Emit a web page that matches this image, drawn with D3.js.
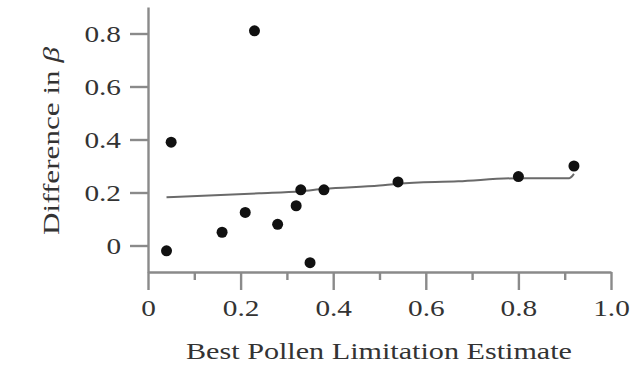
<!DOCTYPE html>
<html>
<head>
<meta charset="utf-8">
<script src="https://cdn.jsdelivr.net/npm/d3@7"></script>
<style>
  html, body { margin: 0; padding: 0; background: #fff; }
  svg text { font-family: "Liberation Serif", "Times New Roman", serif; fill: #333; }
</style>
</head>
<body>
<svg id="chart" width="635" height="374"></svg>
<script>
// Pollen limitation estimate vs. difference in beta
const pollenLimitation = [0.04, 0.05, 0.16, 0.21, 0.23, 0.28, 0.32, 0.33, 0.35, 0.38, 0.54, 0.80, 0.92];
const betaDifference   = [-0.02, 0.39, 0.05, 0.125, 0.81, 0.08, 0.15, 0.21, -0.065, 0.21, 0.24, 0.26, 0.30];

// Smoothed trend through the points
const trendX = [0.04, 0.24, 0.33, 0.38, 0.50, 0.54, 0.67, 0.80, 0.91, 0.92];
const trendY = [0.182, 0.197, 0.205, 0.214, 0.226, 0.233, 0.242, 0.254, 0.254, 0.27];

const xMajorTicks = [0, 0.2, 0.4, 0.6, 0.8, 1.0];
const xMinorTicks = [0.1, 0.3, 0.5, 0.7, 0.9];
const yTicks = [0, 0.2, 0.4, 0.6, 0.8];

const xTitle = "Best Pollen Limitation Estimate";
const yTitle = "Difference in ";
const yTitleSymbol = "β";

const svg = d3.select("#chart");
const axisColor = "#8a8a8a";
const wide = 1.22; // horizontal widening of the serif glyphs

const x = d3.scaleLinear().domain([0, 1]).range([148, 611]);
const y = d3.scaleLinear().domain([-0.1, 0.9]).range([272, 7]);

const fmt = d => d === 0 ? "0" : d3.format(".1f")(d);

function widen(sel) {
  sel.each(function () {
    const w = this.getComputedTextLength();
    d3.select(this).attr("textLength", w * wide).attr("lengthAdjust", "spacingAndGlyphs");
  });
}

// minor x ticks
svg.append("g")
  .attr("transform", `translate(0,${y(-0.1)})`)
  .call(d3.axisBottom(x).tickValues(xMinorTicks).tickSize(8).tickSizeOuter(0).tickFormat(""))
  .call(g => g.select(".domain").remove());

// major x ticks
const gx = svg.append("g")
  .attr("transform", `translate(0,${y(-0.1)})`)
  .call(d3.axisBottom(x).tickValues(xMajorTicks).tickSize(18).tickSizeOuter(0).tickPadding(8).tickFormat(fmt));
gx.selectAll("text").style("font-size", "24px").attr("dy", "0.75em").call(widen);

const gy = svg.append("g")
  .attr("transform", `translate(${x(0)},0)`)
  .call(d3.axisLeft(y).tickValues(yTicks).tickSize(18).tickSizeOuter(0).tickPadding(9).tickFormat(fmt));
gy.selectAll("text").style("font-size", "24px").call(widen);

svg.selectAll(".domain, .tick line").attr("stroke", axisColor).attr("stroke-width", 2.4);

// axis titles
svg.append("text")
  .attr("x", 379).attr("y", 359)
  .attr("text-anchor", "middle")
  .attr("textLength", 386).attr("lengthAdjust", "spacingAndGlyphs")
  .style("font-size", "23px")
  .text(xTitle);

const yt = svg.append("text")
  .attr("transform", `translate(59,141) rotate(-90)`)
  .attr("text-anchor", "middle")
  .attr("textLength", 188).attr("lengthAdjust", "spacingAndGlyphs")
  .style("font-size", "24px");
yt.append("tspan").text(yTitle);
yt.append("tspan").style("font-style", "italic").text(yTitleSymbol);

// trend line
const pts = trendX.map((v, i) => [v, trendY[i]]);
svg.append("path")
  .datum(pts)
  .attr("fill", "none")
  .attr("stroke", "#6a6a6a")
  .attr("stroke-width", 2)
  .attr("d", d3.line().x(d => x(d[0])).y(d => y(d[1])).curve(d3.curveMonotoneX));

// points
svg.append("g").selectAll("circle")
  .data(pollenLimitation.map((v, i) => [v, betaDifference[i]]))
  .join("circle")
  .attr("cx", d => x(d[0]))
  .attr("cy", d => y(d[1]))
  .attr("r", 5.5)
  .attr("fill", "#111");
</script>
</body>
</html>
